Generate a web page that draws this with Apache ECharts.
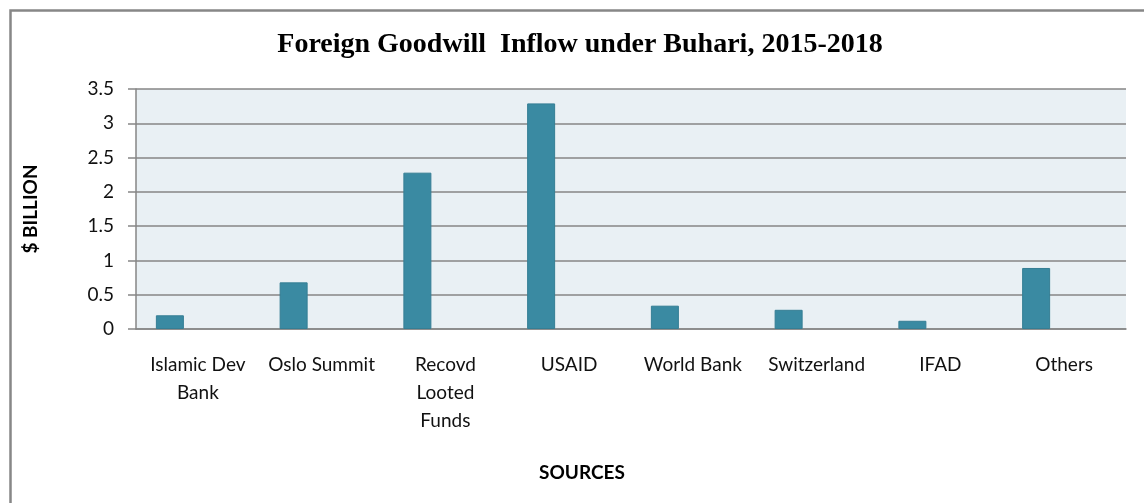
<!DOCTYPE html>
<html>
<head>
<meta charset="utf-8">
<style>
html,body{margin:0;padding:0;background:#fff;}
#chart{width:1144px;height:503px;}
</style>
<script src="https://cdn.jsdelivr.net/npm/echarts@6/dist/echarts.min.js"></script>
</head>
<body>
<div id="chart"></div>
<script>
const categories = ["Islamic Dev\nBank", "Oslo Summit", "Recovd\nLooted\nFunds", "USAID", "World Bank", "Switzerland", "IFAD", "Others"];
const values = [0.2, 0.68, 2.28, 3.29, 0.34, 0.28, 0.12, 0.89];
const yTicks = { min: 0, max: 3.5, interval: 0.5 };
const titleText = "Foreign Goodwill  Inflow under Buhari, 2015-2018";
const yName = "$ BILLION";
const xName = "SOURCES";

const chart = echarts.init(document.getElementById('chart'), null, {renderer: 'canvas'});
const option = {
  animation: false,
  backgroundColor: '#ffffff',
  grid: {
    left: 136, right: 18, top: 89, bottom: 174,
    show: true, backgroundColor: '#E9F0F4', borderWidth: 0
  },
  xAxis: {
    type: 'category',
    data: categories,
    axisLine: { show: true, lineStyle: { color: '#868686', width: 1.5 } },
    axisTick: { show: false },
    axisLabel: {
      interval: 0,
      margin: 22,
      color: '#111',
      fontFamily: 'Lato',
      fontSize: 19,
      lineHeight: 28,
      verticalAlign: 'top'
    },
    splitLine: { show: false }
  },
  yAxis: {
    type: 'value',
    min: yTicks.min, max: yTicks.max, interval: yTicks.interval,
    axisLine: { show: true, lineStyle: { color: '#868686', width: 1.5 } },
    axisTick: { show: true, length: 8, lineStyle: { color: '#868686', width: 1.5 } },
    axisLabel: { margin: 22, color: '#111', fontFamily: 'Lato', fontSize: 19 },
    splitLine: { show: true, lineStyle: { color: '#868686', width: 1.5 } }
  },
  series: [
    {
      type: 'bar',
      data: values,
      barWidth: 28,
      barGap: '100%',
      itemStyle: { color: '#3A8AA2', borderColor: '#357E94', borderWidth: 1 }
    },
    {
      type: 'bar',
      data: values.map(() => null),
      barWidth: 28,
      barGap: '100%'
    }
  ],
  graphic: [
    {
      type: 'rect', silent: true,
      shape: { x: 10.5, y: 10.5, width: 1300, height: 700 },
      style: { fill: 'none', stroke: '#878787', lineWidth: 2.5 }
    },
    {
      type: 'text', x: 580, y: 45,
      style: { text: titleText, align: 'center', verticalAlign: 'middle',
        font: 'bold 28px "Liberation Serif"', fill: '#000' }
    },
    {
      type: 'text', x: 31, y: 209, rotation: Math.PI / 2,
      style: { text: yName, align: 'center', verticalAlign: 'middle',
        font: 'bold 19px Lato', fill: '#000' }
    },
    {
      type: 'text', x: 582, y: 473,
      style: { text: xName, align: 'center', verticalAlign: 'middle',
        font: 'bold 19px Lato', fill: '#000' }
    }
  ]
};
chart.setOption(option);
</script>
</body>
</html>
